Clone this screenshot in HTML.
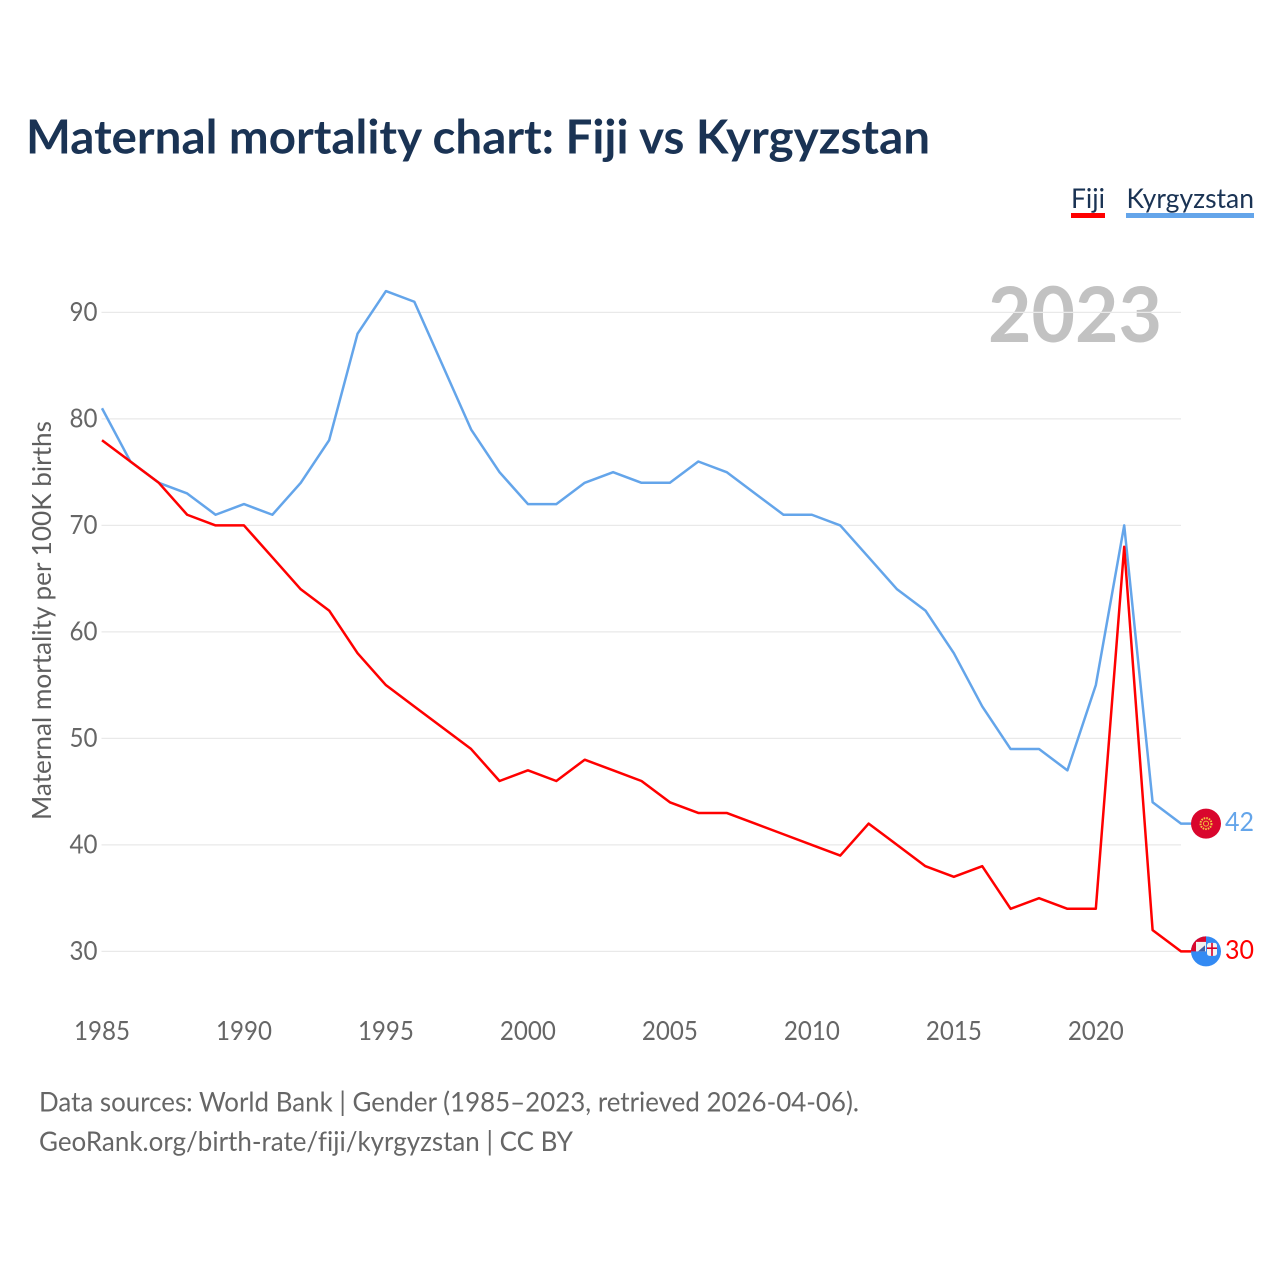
<!DOCTYPE html>
<html>
<head>
<meta charset="utf-8">
<style>
html,body{margin:0;padding:0;background:#fff}
svg{display:block}
text{font-family:"Lato","Carlito","Liberation Sans",sans-serif;font-variant-ligatures:none}
</style>
</head>
<body>
<svg id="chart" width="1280" height="1280" viewBox="0 0 1280 1280" xmlns="http://www.w3.org/2000/svg">
<rect width="1280" height="1280" fill="#fff"/>
<text x="26" y="153.5" font-size="47" font-weight="700" fill="#1a3354" textLength="904" lengthAdjust="spacingAndGlyphs">Maternal mortality chart: Fiji vs Kyrgyzstan</text>
<g>
<g>
<text x="1071" y="208" font-size="27" fill="#1a3354" textLength="34" lengthAdjust="spacingAndGlyphs">Fiji</text>
<rect x="1071" y="213" width="34" height="5" fill="#ff0000"/>
</g>
<g>
<text x="1126.5" y="208" font-size="27" fill="#1a3354" textLength="127.5" lengthAdjust="spacingAndGlyphs">Kyrgyzstan</text>
<rect x="1126" y="213" width="128" height="5" fill="#64a5ea"/>
</g>
</g>
<text x="1162" y="342" font-size="77" font-weight="700" fill="#c2c2c2" text-anchor="end" textLength="174" lengthAdjust="spacingAndGlyphs">2023</text>
<g id="grid"></g>
<g id="yticks"></g>
<g id="xticks"></g>
<text transform="translate(51,820) rotate(-90)" font-size="26" fill="#5f5f5f" textLength="399" lengthAdjust="spacingAndGlyphs">Maternal mortality per 100K births</text>
<g id="series"></g>
<g id="ends"></g>
<g>
<text x="39" y="1111.5" font-size="27" fill="#666" textLength="820" lengthAdjust="spacingAndGlyphs">Data sources: World Bank | Gender (1985–2023, retrieved 2026-04-06).</text>
<text x="39" y="1151" font-size="27" fill="#666" textLength="534" lengthAdjust="spacingAndGlyphs">GeoRank.org/birth-rate/fiji/kyrgyzstan | CC BY</text>
</g>
</svg>
<script>
const years = [1985,1986,1987,1988,1989,1990,1991,1992,1993,1994,1995,1996,1997,1998,1999,2000,2001,2002,2003,2004,2005,2006,2007,2008,2009,2010,2011,2012,2013,2014,2015,2016,2017,2018,2019,2020,2021,2022,2023];
const fijiValues = [78,76,74,71,70,70,67,64,62,58,55,53,51,49,46,47,46,48,47,46,44,43,43,42,41,40,39,42,40,38,37,38,34,35,34,34,68,32,30];
const kyrgyzstanValues = [81,76,74,73,71,72,71,74,78,88,92,91,85,79,75,72,72,74,75,74,74,76,75,73,71,71,70,67,64,62,58,53,49,49,47,55,70,44,42];
const yTickValues = [30,40,50,60,70,80,90];
const xTickValues = [1985,1990,1995,2000,2005,2010,2015,2020];

const NS = 'http://www.w3.org/2000/svg';
const xScale = function (year) { return 102 + (year - 1985) * (1181 - 102) / 38; };
const yScale = function (value) { return 951.4 - (value - 30) * (951.4 - 312.4) / 60; };
function make(tag, parent) {
  const el = document.createElementNS(NS, tag);
  parent.appendChild(el);
  return el;
}

const gridGroup = document.getElementById('grid');
const yGroup = document.getElementById('yticks');
yTickValues.forEach(function (v) {
  const line = make('line', gridGroup);
  
  
  line.setAttribute('x1', 101.5);
  line.setAttribute('x2', 1181);
  line.setAttribute('y1', yScale(v));
  line.setAttribute('y2', yScale(v));
  line.setAttribute('stroke', '#e9e9e9');
  line.setAttribute('stroke-width', 1.3);
  const label = make('text', yGroup);
  
  
  label.setAttribute('x', 97.5);
  label.setAttribute('y', yScale(v) + 8.6);
  label.setAttribute('font-size', 26);
  label.setAttribute('fill', '#666');
  label.setAttribute('text-anchor', 'end');
  label.setAttribute('textLength', 28);
  label.setAttribute('lengthAdjust', 'spacingAndGlyphs');
  label.textContent = v;
});

const xGroup = document.getElementById('xticks');
xTickValues.forEach(function (y) {
  const label = make('text', xGroup);
  
  
  label.setAttribute('x', xScale(y));
  label.setAttribute('y', 1040);
  label.setAttribute('font-size', 26);
  label.setAttribute('fill', '#666');
  label.setAttribute('text-anchor', 'middle');
  label.setAttribute('textLength', 56);
  label.setAttribute('lengthAdjust', 'spacingAndGlyphs');
  label.textContent = y;
});

const seriesGroup = document.getElementById('series');
const connectorEndX = 1192;
function drawLine(values, color, name) {
  const last = values[values.length - 1];
  const path = make('path', seriesGroup);
  
  
  path.setAttribute('d', values.map(function (v, i) {
    return (i ? 'L' : 'M') + xScale(years[i]).toFixed(2) + ' ' + yScale(v).toFixed(2);
  }).join(' ') + ' L' + connectorEndX + ' ' + yScale(last).toFixed(2));
  path.setAttribute('fill', 'none');
  path.setAttribute('stroke', color);
  path.setAttribute('stroke-width', 2.5);
  path.setAttribute('stroke-linejoin', 'round');
}
drawLine(kyrgyzstanValues, '#64a5ea', 'line-kyrgyzstan');
drawLine(fijiValues, '#ff0000', 'line-fiji');

const endsGroup = document.getElementById('ends');
const markerX = 1206;
function drawEndLabel(value, color, name) {
  const label = make('text', endsGroup);
  
  
  label.setAttribute('x', 1225);
  label.setAttribute('y', yScale(value) + 7.6);
  label.setAttribute('font-size', 26);
  label.setAttribute('fill', color);
  label.setAttribute('textLength', 29);
  label.setAttribute('lengthAdjust', 'spacingAndGlyphs');
  label.textContent = value;
}

const kyVal = kyrgyzstanValues[kyrgyzstanValues.length - 1];
const kyY = yScale(kyVal);
const kyFlag = make('g', endsGroup);


kyFlag.setAttribute('transform', 'translate(' + markerX + ',' + kyY + ')');
const kyDisc = make('circle', kyFlag);


kyDisc.setAttribute('r', 15);
kyDisc.setAttribute('fill', '#d9062d');
const kySun = make('circle', kyFlag);


kySun.setAttribute('r', 5.5);
kySun.setAttribute('fill', 'none');
kySun.setAttribute('stroke', '#f5c542');
kySun.setAttribute('stroke-width', 2);
kySun.setAttribute('stroke-dasharray', '1.6 1');
const kyCore = make('circle', kyFlag);


kyCore.setAttribute('r', 2.5);
kyCore.setAttribute('fill', 'none');
kyCore.setAttribute('stroke', '#f0b93a');
kyCore.setAttribute('stroke-width', 1);
drawEndLabel(kyVal, '#64a5ea', 'end-label-kyrgyzstan');

const fjVal = fijiValues[fijiValues.length - 1];
const fjY = yScale(fjVal);
const fjFlag = make('g', endsGroup);


fjFlag.setAttribute('transform', 'translate(' + markerX + ',' + fjY + ')');
const fjSea = make('circle', fjFlag);


fjSea.setAttribute('r', 15);
fjSea.setAttribute('fill', '#338af3');
const fjCanton = make('path', fjFlag);


fjCanton.setAttribute('d', 'M0 0 L-15 0 A15 15 0 0 1 0 -15 Z');
fjCanton.setAttribute('fill', '#d9062d');
const fjJack = make('rect', fjFlag);


fjJack.setAttribute('x', -10);
fjJack.setAttribute('y', -9.5);
fjJack.setAttribute('width', 10);
fjJack.setAttribute('height', 9.5);
fjJack.setAttribute('fill', '#f0f0f0');
const fjJackBar = make('path', fjFlag);


fjJackBar.setAttribute('d', 'M-8 0 L-1 0 L-1 -6 Z');
fjJackBar.setAttribute('fill', '#3f5fa8');
const fjShield = make('rect', fjFlag);


fjShield.setAttribute('x', 1);
fjShield.setAttribute('y', -8.5);
fjShield.setAttribute('width', 10);
fjShield.setAttribute('height', 13);
fjShield.setAttribute('rx', 2.5);
fjShield.setAttribute('fill', '#f4f4f4');
const fjCrossH = make('rect', fjFlag);


fjCrossH.setAttribute('x', 1);
fjCrossH.setAttribute('y', -4);
fjCrossH.setAttribute('width', 10);
fjCrossH.setAttribute('height', 1.6);
fjCrossH.setAttribute('fill', '#d80027');
const fjCrossV = make('rect', fjFlag);


fjCrossV.setAttribute('x', 5.2);
fjCrossV.setAttribute('y', -8.5);
fjCrossV.setAttribute('width', 1.6);
fjCrossV.setAttribute('height', 13);
fjCrossV.setAttribute('fill', '#d80027');
drawEndLabel(fjVal, '#ff0000', 'end-label-fiji');
</script>
</body>
</html>
